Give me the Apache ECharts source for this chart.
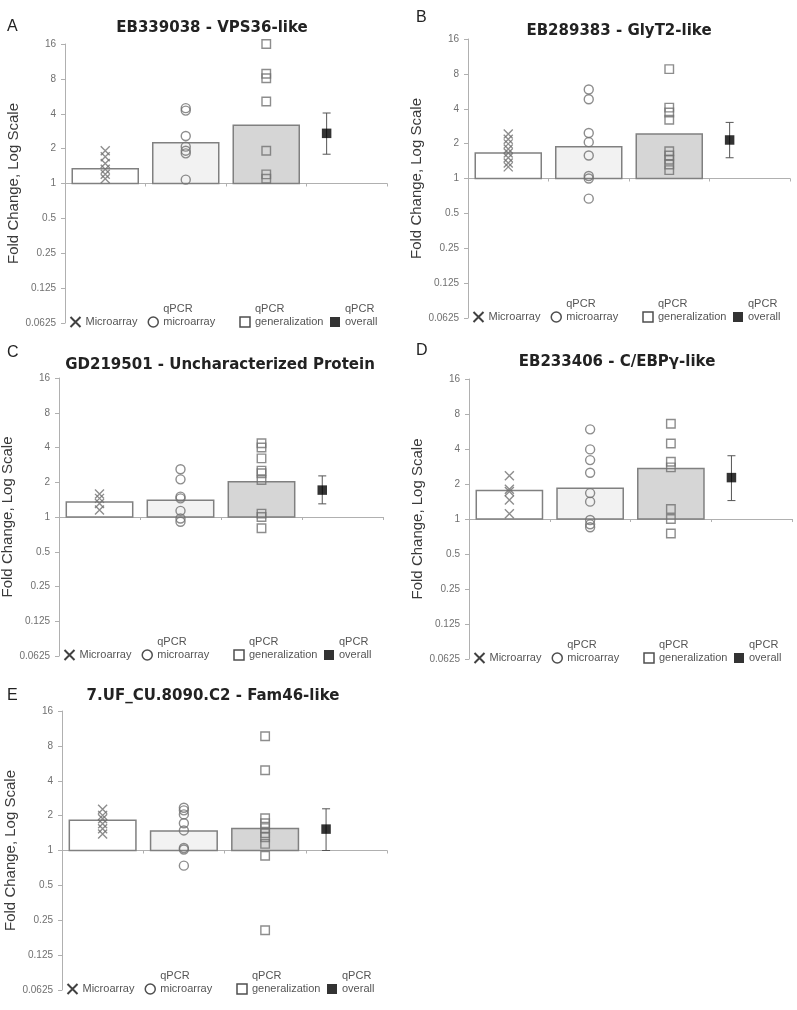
<!DOCTYPE html>
<html><head><meta charset="utf-8">
<script src="https://cdn.jsdelivr.net/npm/echarts@6/dist/echarts.min.js"></script>
<style>html,body{margin:0;padding:0;background:#fff}#c{width:797px;height:1010px}</style>
</head><body><div id="c"></div>
<script>
// ---------- data ----------
const panelLetters = ['A', 'B', 'C', 'D', 'E'];
const panelTitles = ['EB339038 - VPS36-like', 'EB289383 - GlyT2-like', 'GD219501 - Uncharacterized Protein', 'EB233406 - C/EBP\u03b3-like', '7.UF_CU.8090.C2 - Fam46-like'];
const yTickLabels = ['0.0625', '0.125', '0.25', '0.5', '1', '2', '4', '8', '16'];
const legendNames = ['Microarray', 'qPCR microarray', 'qPCR generalization', 'qPCR overall'];

const barMicroarray = [1.34, 1.66, 1.35, 1.76, 1.82];
const barQpcrMicroarray = [2.25, 1.88, 1.40, 1.84, 1.47];
const barQpcrGeneral = [3.18, 2.42, 2.02, 2.72, 1.55];
const overallMean = [2.71, 2.15, 1.71, 2.27, 1.53];
const overallLow = [1.79, 1.51, 1.30, 1.44, 1.00];
const overallHigh = [4.06, 3.05, 2.27, 3.50, 2.29];

const microarrayPts = [
  [1.92, 1.70, 1.49, 1.33, 1.20, 1.10],
  [2.42, 2.18, 1.99, 1.80, 1.66, 1.51, 1.36, 1.26],
  [1.58, 1.45, 1.31, 1.15],
  [2.35, 1.80, 1.72, 1.46, 1.11],
  [2.27, 2.01, 1.88, 1.70, 1.54, 1.39]
];
const qpcrMicroarrayPts = [
  [4.47, 4.26, 2.57, 2.08, 1.92, 1.82, 1.08],
  [5.87, 4.83, 2.47, 2.06, 1.58, 1.05, 1.00, 0.67],
  [2.59, 2.12, 1.50, 1.45, 1.13, 0.97, 0.91],
  [5.90, 3.97, 3.21, 2.50, 1.67, 1.41, 0.98, 0.90, 0.85],
  [2.34, 2.22, 2.05, 1.72, 1.49, 1.05, 1.02, 0.74]
];
const qpcrGeneralPts = [
  [16, 8.86, 8.10, 5.10, 1.92, 1.20, 1.10],
  [8.80, 4.09, 3.71, 3.21, 1.72, 1.58, 1.45, 1.32, 1.18],
  [4.35, 4.00, 3.22, 2.52, 2.39, 2.09, 1.07, 1.00, 0.80],
  [6.60, 4.46, 3.11, 2.78, 1.22, 1.00, 0.75],
  [9.70, 4.93, 1.90, 1.72, 1.56, 1.41, 1.30, 1.14, 0.90, 0.205]
];

// ---------- layout / style ----------
const gridBoxes = [
  {left: 65, top: 44, width: 322, height: 279},
  {left: 468, top: 39, width: 322, height: 279},
  {left: 59, top: 378, width: 324, height: 278},
  {left: 469, top: 379, width: 323, height: 280},
  {left: 62, top: 711, width: 325, height: 279}
];
const letterPos = [[7, 19], [416, 10], [7, 345], [416, 343], [7, 688]];
const titlePos = [[212, 21], [619, 24], [220, 358], [617, 355], [213, 689]];
const nameGaps = [43, 41, 37, 44, 40];
const catX = [0.5, 1.5, 2.5];
const overallX = 3.25;
const barFills = ['#ffffff', '#f2f2f2', '#d6d6d6'];
const markGray = '#707070';
const xPath = 'path://M0,0L10,10M10,0L0,10';
const FONT = 'Liberation Sans, Arial, sans-serif';

const chart = echarts.init(document.getElementById('c'), null, {renderer: 'canvas'});

const grid = [], xAxis = [], yAxis = [], series = [], title = [], legend = [];

function nearestLabel(v) {
  let best = yTickLabels[0], bd = Infinity;
  yTickLabels.forEach(t => { const d = Math.abs(Math.log2(parseFloat(t)) - Math.log2(v)); if (d < bd) { bd = d; best = t; } });
  return best;
}

gridBoxes.forEach((g, i) => {
  grid.push(Object.assign({containLabel: false, outerBoundsMode: 'none'}, g));
  xAxis.push({
    type: 'value', gridIndex: i, min: 0, max: 4, interval: 1,
    offset: -g.height / 2,
    axisLine: {show: true, lineStyle: {color: '#b0b0b0', width: 1}},
    axisTick: {show: true, length: 3, lineStyle: {color: '#b0b0b0'}},
    axisLabel: {show: false}, splitLine: {show: false}
  });
  yAxis.push({
    type: 'log', logBase: 2, gridIndex: i, min: 0.0625, max: 16, splitNumber: 8,
    name: 'Fold Change, Log Scale', nameLocation: 'middle', nameGap: nameGaps[i],
    nameTextStyle: {fontFamily: FONT, fontSize: 15, color: '#3a3a3a'},
    axisLine: {show: true, lineStyle: {color: '#b0b0b0', width: 1}},
    axisTick: {show: true, length: 4, lineStyle: {color: '#b0b0b0'}},
    axisLabel: {fontFamily: FONT, fontSize: 10, color: '#707070', margin: 9, formatter: v => nearestLabel(v)},
    splitLine: {show: false}
  });
  title.push({text: panelLetters[i], left: letterPos[i][0], top: letterPos[i][1], padding: 0,
    textStyle: {fontFamily: FONT, fontSize: 16, fontWeight: 'normal', color: '#222'}});
  title.push({text: panelTitles[i], left: titlePos[i][0], top: titlePos[i][1], textAlign: 'center', padding: 0,
    textStyle: {fontFamily: 'DejaVu Sans, sans-serif', fontSize: 15, fontWeight: 'bold', color: '#222'}});

  const barVals = [barMicroarray[i], barQpcrMicroarray[i], barQpcrGeneral[i]];
  series.push({
    type: 'custom', name: 'bars', xAxisIndex: i, yAxisIndex: i, z: 1,
    encode: {x: 0, y: 1},
    data: barVals.map((v, k) => [catX[k], v, k]),
    renderItem: (params, api) => {
      const x = api.value(0), v = api.value(1), k = api.value(2);
      const a = api.coord([x - 0.41, 1]);
      const b = api.coord([x + 0.41, v]);
      return {type: 'rect', shape: {x: a[0], y: b[1], width: b[0] - a[0], height: a[1] - b[1]},
        style: {fill: barFills[k], stroke: '#808080', lineWidth: 1.5}};
    }
  });
  series.push({
    type: 'custom', name: 'errors', xAxisIndex: i, yAxisIndex: i, z: 2,
    encode: {x: 0, y: [1, 2]},
    data: [[overallX, overallLow[i], overallHigh[i]]],
    renderItem: (params, api) => {
      const x = api.value(0);
      const lo = api.coord([x, api.value(1)]);
      const hi = api.coord([x, api.value(2)]);
      const w = 4;
      const st = {stroke: '#555', lineWidth: 1};
      return {type: 'group', children: [
        {type: 'line', shape: {x1: lo[0], y1: lo[1], x2: hi[0], y2: hi[1]}, style: st},
        {type: 'line', shape: {x1: lo[0] - w, y1: lo[1], x2: lo[0] + w, y2: lo[1]}, style: st},
        {type: 'line', shape: {x1: hi[0] - w, y1: hi[1], x2: hi[0] + w, y2: hi[1]}, style: st}
      ]};
    }
  });
  series.push({
    type: 'scatter', name: 'Microarray', xAxisIndex: i, yAxisIndex: i, z: 3,
    symbol: xPath, symbolSize: 9,
    itemStyle: {color: 'none', borderColor: markGray, borderWidth: 1.4},
    data: microarrayPts[i].map(v => [catX[0], v])
  });
  series.push({
    type: 'scatter', name: 'qPCR microarray', xAxisIndex: i, yAxisIndex: i, z: 3,
    symbol: 'circle', symbolSize: 9,
    itemStyle: {color: 'rgba(255,255,255,0)', borderColor: markGray, borderWidth: 1.4},
    data: qpcrMicroarrayPts[i].map(v => [catX[1], v])
  });
  series.push({
    type: 'scatter', name: 'qPCR generalization', xAxisIndex: i, yAxisIndex: i, z: 3,
    symbol: 'rect', symbolSize: 8.5,
    itemStyle: {color: 'rgba(255,255,255,0)', borderColor: markGray, borderWidth: 1.4},
    data: qpcrGeneralPts[i].map(v => [catX[2], v])
  });
  series.push({
    type: 'scatter', name: 'qPCR overall', xAxisIndex: i, yAxisIndex: i, z: 4,
    symbol: 'rect', symbolSize: 9.5,
    itemStyle: {color: '#000'},
    data: [[overallX, overallMean[i]]]
  });

  legend.push({
    left: g.left + 3, top: g.top + g.height - 20.5, padding: 0, orient: 'horizontal',
    itemGap: 4, itemWidth: 10, itemHeight: 10, selectedMode: false,
    data: [
      {name: legendNames[0], icon: xPath, itemStyle: {color: 'none', borderColor: '#111', borderWidth: 2}},
      {name: legendNames[1], icon: 'circle', itemStyle: {color: 'rgba(255,255,255,0)', borderColor: '#222', borderWidth: 1.5}},
      {name: legendNames[2], icon: 'rect', itemStyle: {color: 'rgba(255,255,255,0)', borderColor: '#222', borderWidth: 1.5}},
      {name: legendNames[3], icon: 'rect', itemStyle: {color: '#000', borderWidth: 0}}
    ],
    formatter: name => {
      if (name === 'Microarray') return '{a| }\n{a|Microarray}\n{a| }';
      const parts = name.split(' ');
      const cls = name === 'qPCR microarray' ? 'b' : (name === 'qPCR generalization' ? 'c' : 'd');
      return '{' + cls + '|' + parts[0] + '}\n{' + cls + '|' + parts[1] + '}\n{' + cls + '| }';
    },
    textStyle: {
      fontFamily: FONT, fontSize: 11, color: '#555', lineHeight: 13,
      rich: {
        a: {fontFamily: FONT, fontSize: 11, color: '#555', lineHeight: 13, width: 58},
        b: {fontFamily: FONT, fontSize: 11, color: '#555', lineHeight: 13, width: 72},
        c: {fontFamily: FONT, fontSize: 11, color: '#555', lineHeight: 13, width: 71},
        d: {fontFamily: FONT, fontSize: 11, color: '#555', lineHeight: 13}
      }
    }
  });
});

chart.setOption({animation: false, backgroundColor: '#fff', grid, xAxis, yAxis, title, legend, series});
</script>
</body></html>
